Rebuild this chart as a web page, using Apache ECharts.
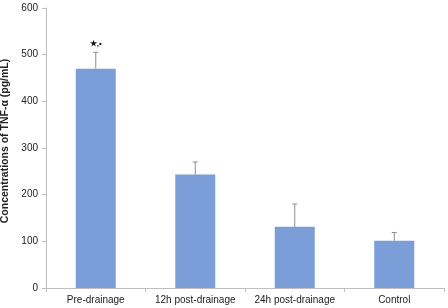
<!DOCTYPE html>
<html lang="en">
<head>
    <meta charset="UTF-8">
    <title>TNF-α</title>
    <script src="https://cdn.jsdelivr.net/npm/echarts@6/dist/echarts.min.js"></script>
    <style>
        body { margin: 0; background: #fff; }
    </style>
</head>
<body>
<div id="chart" style="width: 448px;height: 308px;"></div>
<script>
    // data
    var categories = ['Pre-drainage', '12h post-drainage', '24h post-drainage', 'Control'];
    var means = [470, 243, 131, 101];
    var upper = [505, 270, 180, 119];
    var marks = ['\u2605,\u2022', '', '', ''];
    var yTicks = [0, 100, 200, 300, 400, 500, 600];

    var myChart = echarts.init(document.getElementById('chart'));

    var errData = categories.map(function (c, i) {
        return [i, means[i], upper[i]];
    });

    var option = {
        animation: false,
        textStyle: { fontFamily: 'Liberation Sans, Arial, sans-serif' },
        grid: { left: 46, right: 4, top: 8, bottom: 20, outerBoundsMode: 'none', containLabel: false },
        xAxis: {
            type: 'category',
            data: categories,
            axisLine: { lineStyle: { color: '#bfbfbf' } },
            axisTick: { show: true, length: 4, lineStyle: { color: '#bfbfbf' } },
            axisLabel: { color: '#222', fontSize: 10, margin: 7, interval: 0 }
        },
        yAxis: {
            type: 'value',
            min: yTicks[0],
            max: yTicks[yTicks.length - 1],
            interval: 100,
            name: 'Concentrations of TNF-\u03b1 (pg/mL)',
            nameLocation: 'middle',
            nameGap: 33,
            nameTextStyle: { fontSize: 10.5, fontWeight: 'bold', color: '#222', padding: [0, 0, 0, 14] },
            axisLine: { show: true, lineStyle: { color: '#bfbfbf' } },
            axisTick: { show: true, length: 4, lineStyle: { color: '#bfbfbf' } },
            axisLabel: { color: '#222', fontSize: 10, margin: 8 },
            splitLine: { show: false }
        },
        series: [{
            type: 'bar',
            data: means,
            barWidth: 40,
            itemStyle: { color: '#7b9ed8' }
        }, {
            type: 'custom',
            data: errData,
            z: 1,
            renderItem: function (params, api) {
                var x = api.coord([api.value(0), api.value(1)]);
                var hi = api.coord([api.value(0), api.value(2)]);
                var idx = params.dataIndex;
                var children = [{
                    type: 'line',
                    shape: { x1: x[0], y1: x[1], x2: hi[0], y2: hi[1] },
                    style: { stroke: '#8c8c8c', lineWidth: 1 }
                }, {
                    type: 'line',
                    shape: { x1: hi[0] - 2.5, y1: hi[1], x2: hi[0] + 2.5, y2: hi[1] },
                    style: { stroke: '#8c8c8c', lineWidth: 1 }
                }];
                if (marks[idx]) {
                    children.push({
                        type: 'text',
                        style: {
                            text: marks[idx],
                            x: hi[0],
                            y: hi[1] - 9,
                            align: 'center',
                            verticalAlign: 'middle',
                            fontSize: 8,
                            fontWeight: 'bold',
                            fill: '#111'
                        }
                    });
                }
                return { type: 'group', children: children };
            }
        }]
    };
    myChart.setOption(option);
</script>
</body>
</html>
